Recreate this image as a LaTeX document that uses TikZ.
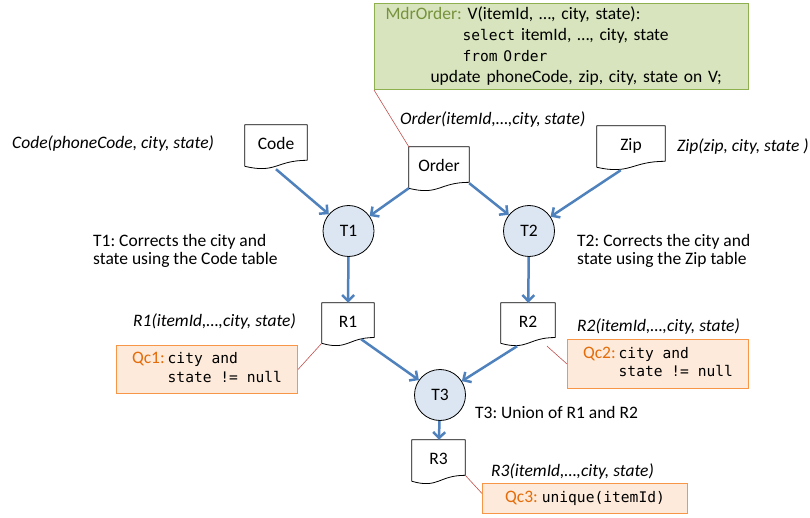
\documentclass[tikz,border=0pt]{standalone}
\usepackage{fontspec}
\setmainfont{Carlito}
\setmonofont{DejaVu Sans Mono}
\usetikzlibrary{calc,arrows.meta}
\frenchspacing

\definecolor{flowblue}{HTML}{4F81BD}
\definecolor{opfill}{HTML}{DCE6F2}
\definecolor{mdrfill}{HTML}{D7E4BD}
\definecolor{mdrline}{HTML}{8EB04F}
\definecolor{mdrtext}{HTML}{76923C}
\definecolor{qcfill}{HTML}{FDEADA}
\definecolor{qcline}{HTML}{F79646}
\definecolor{qctext}{HTML}{E46C0A}
\definecolor{noteline}{HTML}{C0504D}

\newcommand{\bodyfont}{\fontsize{17.5}{18.5}\selectfont}
\newcommand{\codefont}{\fontsize{14.6}{20}\selectfont\ttfamily}

\begin{document}
\begin{tikzpicture}[x=1pt,y=-1pt,
    every node/.style={font=\bodyfont},
    doc/.style={inner sep=0pt,minimum height=44pt,text height=12pt,text depth=7pt},
    docline/.style={draw=black,line width=0.8pt,line join=round},
    op/.style={circle,draw=black,line width=0.8pt,fill=opfill,minimum size=51pt,inner sep=0pt},
    flow/.style={flowblue,line width=2.5pt,-{Straight Barb[length=6pt,width=12pt]}},
    note/.style={noteline,line width=0.6pt},
    lbl/.style={anchor=west,inner sep=0pt,font=\bodyfont\itshape},
    txt/.style={anchor=west,inner sep=0pt,align=left},
    mdrbox/.style={draw=mdrline,line width=1pt,fill=mdrfill,anchor=north west,
        minimum width=374pt,minimum height=86pt,inner xsep=11pt,text width=352pt,align=left},
    qcbox/.style={draw=qcline,line width=1pt,fill=qcfill,anchor=north west,inner xsep=8pt,align=left}]
    \useasboundingbox (0,0) rectangle (810,518);

    \node[mdrbox] (mdr) at (374,3) {%
        \textcolor{mdrtext}{MdrOrder:} V(itemId, …, city, state):\\[2.5pt]
        \hspace*{77pt}{\codefont select} itemId, …, city, state\\[2.5pt]
        \hspace*{77pt}{\codefont from Order}\\[2.5pt]
        \hspace*{45pt}update phoneCode, zip, city, state on V;};

    \node[doc,minimum width=62pt] (code) at (276,147) {Code};
    \node[doc,minimum width=60pt] (order) at (439,169) {Order};
    \node[doc,minimum width=68pt] (zip) at (631,148) {Zip};
    \node[op] (t1) at (348.5,231) {T1};
    \node[op] (t2) at (529,231) {T2};
    \node[doc,minimum width=52pt,minimum height=43pt] (r1) at (348,324.5) {R1};
    \node[doc,minimum width=54pt,minimum height=43pt] (r2) at (528,324.5) {R2};
    \node[op] (t3) at (440,395) {T3};
    \node[doc,minimum width=53pt] (r3) at (438.5,462) {R3};

    \foreach \d in {code,order,zip,r1,r2,r3}
        \draw[docline] (\d.north west) -- (\d.north east)
            -- ($(\d.north east)!0.8!(\d.south east)$)
            .. controls ($(\d.north)!0.8!(\d.south)$) and ($(\d.north)!1.107!(\d.south)$)
            .. ($(\d.north west)!0.934!(\d.south west)$) -- cycle;

    \node[lbl] (codelbl) at (12,144) {Code(phoneCode, city, state)};
    \node[lbl] (orderlbl) at (400,120) {Order(itemId,…,city, state)};
    \node[lbl] (ziplbl) at (677,147) {Zip(zip, city, state )};
    \node[txt] (t1lbl) at (93,251) {T1: Corrects the city and\\state using the Code table};
    \node[txt] (t2lbl) at (577,251) {T2: Corrects the city and\\state using the Zip table};
    \node[lbl] (r1lbl) at (133,322) {R1(itemId,…,city, state)};
    \node[lbl] (r2lbl) at (577,327) {R2(itemId,…,city, state)};
    \node[txt] (t3lbl) at (475,412) {T3: Union of R1 and R2};
    \node[lbl] (r3lbl) at (491,472) {R3(itemId,…,city, state)};

    \node[qcbox,minimum width=181pt,minimum height=48pt] (qc1) at (116,345) {%
        \begin{tabular}{@{}l@{\,}l@{}}
            \textcolor{qctext}{Qc1:} & {\codefont city and}\\
            & {\codefont state != null}
        \end{tabular}};
    \node[qcbox,minimum width=181pt,minimum height=49pt] (qc2) at (567,339) {%
        \begin{tabular}{@{}l@{\,}l@{}}
            \textcolor{qctext}{Qc2:} & {\codefont city and}\\
            & {\codefont state != null}
        \end{tabular}};
    \node[qcbox,minimum width=205pt,minimum height=30pt] (qc3) at (482,483) {%
        \textcolor{qctext}{Qc3:} {\codefont unique(itemId)}};

    \draw[flow] (code.south) -- (t1);
    \draw[flow] ([yshift=3pt]order.south west) -- (t1);
    \draw[flow] ([yshift=8pt]order.south east) -- (t2);
    \draw[flow] ($(zip.south)!0.3!(zip.south west)$) -- (t2);
    \draw[flow] (t1) -- (r1);
    \draw[flow] (t2) -- (r2);
    \draw[flow] ([yshift=7pt]$(r1.south)!0.5!(r1.south east)$) -- (t3);
    \draw[flow] ($(r2.south)!0.4!(r2.south west)$) -- (t3);
    \draw[flow] (t3) -- (r3);

    \draw[note] (mdr.south west) -- (order.north west);
    \draw[note] ([yshift=3pt]r1.south west) -- (qc1.east);
    \draw[note] ($(r2.south)!0.7!(r2.south east)$) -- (qc2.west);
    \draw[note] ([yshift=9pt]r3.south east) -- ([yshift=5pt]qc3.west);
\end{tikzpicture}
\end{document}
